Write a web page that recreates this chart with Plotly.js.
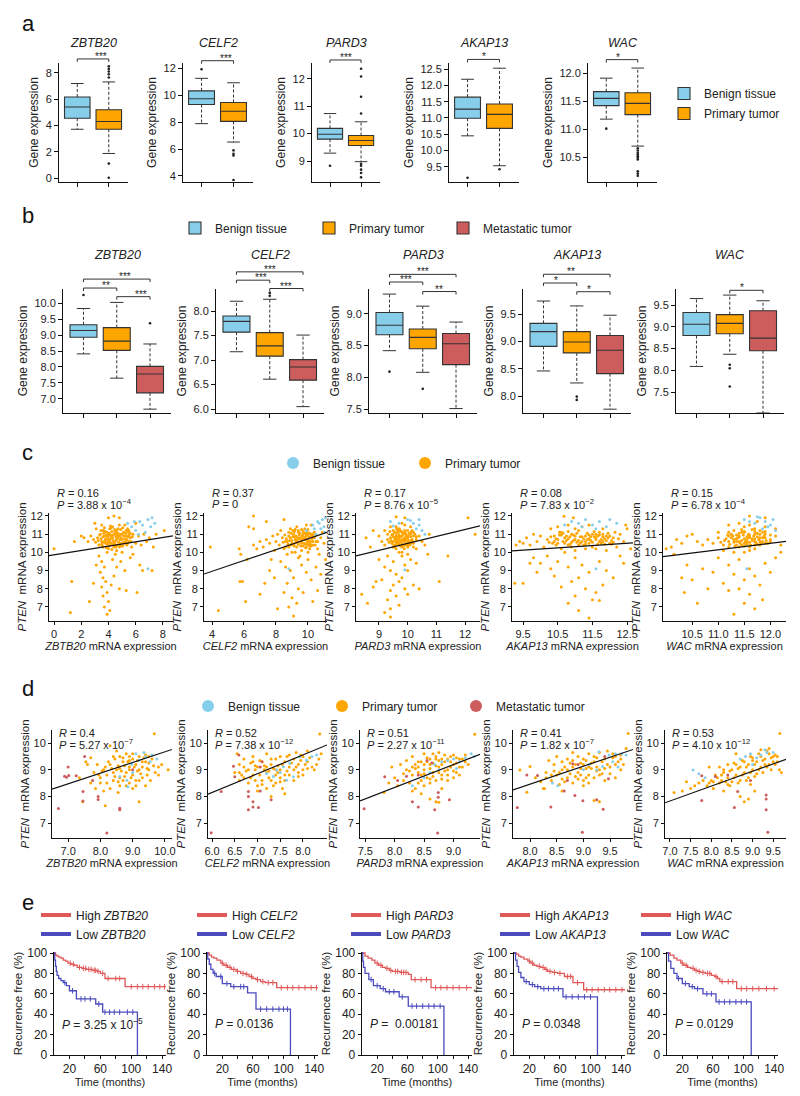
<!DOCTYPE html>
<html>
<head>
<meta charset="utf-8">
<script src="https://cdn.plot.ly/plotly-3.0.1.min.js"></script>
<style>html,body{margin:0;padding:0;background:#fff;}#chart{width:800px;height:1096px;}</style>
</head>
<body>
<div id="chart"></div>
<script>
// ================= DATA =================
const genes = ['ZBTB20', 'CELF2', 'PARD3', 'AKAP13', 'WAC'];
const groupNames = ['Benign tissue', 'Primary tumor', 'Metastatic tumor'];

// Panel a: box stats [lower whisker, Q1, median, Q3, upper whisker]
const aBenign = [[3.71,4.55,5.40,6.16,7.19],[7.89,9.31,9.74,10.33,11.26],[9.29,9.80,9.98,10.19,10.73],[10.45,10.99,11.27,11.64,12.19],[11.18,11.42,11.55,11.67,11.91]];
const aPrimary = [[1.87,3.71,4.30,5.19,7.31],[6.52,8.06,8.81,9.46,10.93],[8.98,9.57,9.75,9.93,10.43],[9.53,10.68,11.11,11.43,12.53],[10.70,11.26,11.46,11.65,12.09]];
const aBenignOut = [[],[11.93],[8.83],[9.16],[11.01]];
const aPrimaryOut = [[8.5,8.3,8.1,7.9,7.65,1.1,0.02],[5.9,5.65,5.52,3.7],[12.36,12.08,11.34,10.73,8.9,8.83,8.69,8.57,8.41],[9.42],[10.66,10.62,10.58,10.55,10.52,10.49,10.46,10.25,10.21,10.17]];
const aSigLabel = ['***','***','***','*','*'];
const aSigY = [9.06,12.57,12.68,12.80,12.24];

// Panel b: box stats [lower whisker, Q1, median, Q3, upper whisker]
const bBenign = [[8.41,8.93,9.14,9.32,9.83],[7.17,7.57,7.79,7.90,8.20],[8.42,8.67,8.82,9.02,9.31],[8.46,8.91,9.18,9.33,9.74],[8.09,8.80,9.06,9.33,9.65]];
const bPrimary = [[7.65,8.52,8.81,9.23,10.02],[6.61,7.08,7.29,7.56,8.24],[8.08,8.45,8.63,8.76,9.12],[8.24,8.79,8.99,9.18,9.65],[8.37,8.84,9.08,9.28,9.73]];
const bMeta = [[6.68,7.19,7.78,8.02,8.72],[6.05,6.59,6.86,7.01,7.51],[7.51,8.20,8.53,8.69,8.87],[7.76,8.41,8.84,9.11,9.48],[7.02,8.45,8.74,9.37,9.60]];
const bBenignOut = [[10.25],[],[8.09],[],[]];
const bPrimaryOut = [[],[8.37,8.31],[7.82],[7.99,7.93],[8.13,8.05,7.63]];
const bMetaOut = [[9.37],[],[],[],[]];
// significance brackets: [group i, group j, height (data units), label]
const bSig = [
  [[1,3,10.75,'***'],[1,2,10.47,'**'],[2,3,10.20,'***']],
  [[1,3,8.80,'***'],[1,2,8.63,'***'],[2,3,8.46,'***']],
  [[1,3,9.62,'***'],[1,2,9.50,'***'],[2,3,9.35,'**']],
  [[1,3,10.23,'**'],[1,2,10.07,'*'],[2,3,9.91,'*']],
  [[2,3,9.84,'*']]
];

// Panel c: [gene expression, PTEN expression]
const c1Primary = [[3.2,10.8],[3.4,11.0],[3.5,10.6],[3.6,11.2],[3.7,10.9],[3.8,10.5],[3.9,11.1],[4.0,10.7],[4.1,11.3],[4.2,10.9],[4.3,10.4],[4.4,11.0],[4.5,10.6],[4.6,11.2],[4.7,10.8],[4.8,10.3],[4.9,11.0],[5.0,10.7],[5.1,11.1],[5.2,10.5],[5.3,10.9],[5.4,11.3],[5.5,10.6],[5.6,10.8],[5.8,11.0],[6.0,10.5],[3.3,10.4],[3.6,10.3],[4.0,10.2],[4.3,11.4],[4.6,10.1],[4.9,10.5],[5.2,11.5],[5.7,10.3],[3.9,10.0],[4.4,10.3],[4.8,11.5],[3.1,11.3],[2.9,10.7],[2.7,10.9],[6.2,10.9],[6.4,10.4],[6.6,11.0],[2.5,10.6],[2.2,10.8],[6.8,10.6],[3.5,11.5],[4.1,10.5],[5.0,10.0],[5.5,11.2],
[3.45,10.75],[3.75,10.65],[3.95,10.85],[4.15,10.75],[4.35,10.65],[4.55,10.85],[4.75,10.55],[4.95,10.8],[5.15,10.9],[5.35,10.7],[3.65,11.05],[3.85,10.95],[4.05,11.05],[4.25,11.15],[4.45,10.45],[4.65,10.4],[4.85,10.7],[5.05,10.35],[5.25,11.05],[5.45,10.85],[3.55,10.35],[4.15,11.45],[4.6,11.0],[5.6,11.05],[3.05,10.55],[4.25,10.15],[5.35,10.4],[4.9,11.25],[3.85,10.25],[4.45,11.25],
[3.35,10.95],[3.5,10.45],[3.6,10.85],[3.7,11.35],[3.8,10.75],[3.9,10.45],[4.0,10.95],[4.1,10.6],[4.2,11.35],[4.3,10.8],[4.4,10.55],[4.5,11.1],[4.6,10.7],[4.7,11.05],[4.8,10.9],[4.9,10.35],[5.0,11.0],[5.1,10.55],[5.2,10.75],[5.3,11.2],[5.4,10.5],[5.5,10.95],[3.45,11.2],[3.65,10.55],[3.75,11.15],[3.95,10.6],[4.05,10.35],[4.2,10.5],[4.35,10.95],[4.55,10.3],[4.7,11.3],[4.85,10.45],[5.05,11.35],[5.25,10.6],[5.45,11.1],[5.65,10.6],[5.75,10.85],[3.25,10.65],[4.65,10.95],[4.15,10.95],
[3.3,9.8],[3.5,9.5],[3.7,9.2],[3.4,8.9],[3.6,8.6],[3.8,8.4],[3.5,8.1],[3.9,7.8],[3.6,7.6],[4.0,7.3],[3.7,7.0],[4.1,6.8],[3.9,6.6],[4.3,9.6],[4.6,9.2],[4.9,9.5],[5.2,9.0],[4.4,8.7],[3.1,9.3],[2.9,8.3],[4.8,8.0],[5.3,7.9],[6.1,7.8],[4.5,9.9],[5.6,9.7],[6.3,9.3],[7.2,9.0],[6.5,9.0],[2.6,7.3],[4.2,8.2],
[0.0,10.2],[1.3,8.4],[1.2,6.7],[1.5,10.6],[2.0,10.9],[7.0,10.8],[7.5,11.0],[8.1,11.2],[7.3,10.3],[6.0,11.6],[4.0,11.9],[4.4,12.0],[4.8,11.9],[3.0,11.6],[5.8,9.9]];
const c1Benign = [[5.4,11.6],[5.7,11.4],[6.0,11.2],[6.3,11.7],[6.5,11.5],[6.7,11.1],[6.9,11.8],[7.1,11.4],[7.2,11.9],[5.9,11.7],[6.2,11.0],[6.9,9.1],[7.4,11.6]];

const c2Primary = [[8.6,10.6],[8.8,10.9],[9.0,10.5],[9.1,11.0],[9.2,10.7],[9.3,10.3],[9.4,11.1],[9.5,10.8],[9.6,10.5],[9.7,11.0],[9.8,10.7],[9.9,10.3],[10.0,11.0],[10.1,10.6],[10.2,10.9],[10.3,10.4],[8.4,10.8],[8.2,10.4],[8.0,10.6],[7.8,10.9],[7.6,10.5],[7.4,10.7],[8.9,11.3],[9.3,11.4],[9.6,10.1],[10.0,10.0],[10.4,11.1],[10.5,10.6],[10.6,10.2],[10.8,10.8],[8.5,10.2],[8.7,9.9],[9.0,10.0],[7.2,10.3],[7.0,10.6],[6.8,10.2],[9.8,11.3],[10.2,11.5],[8.3,11.2],[9.5,9.8],[10.7,9.9],[11.0,10.5],[7.9,10.1],[9.2,10.0],[10.1,10.2],[9.9,11.5],[8.1,11.0],[6.6,10.4],[10.9,11.1],[8.8,10.3],
[8.65,10.75],[8.85,10.65],[9.05,10.85],[9.25,10.55],[9.45,10.95],[9.65,10.75],[9.85,10.85],[10.05,10.65],[10.25,10.75],[9.15,10.35],[9.35,10.6],[9.55,10.35],[9.75,10.5],[9.95,10.55],[10.15,10.45],[8.95,11.05],[9.4,11.2],[9.7,11.15],[10.0,11.25],[10.3,11.0],[8.75,10.45],[9.2,10.85],[9.6,10.65],[9.9,10.95],[10.4,10.8],
[8.45,10.55],[8.55,10.95],[8.7,10.6],[8.8,11.1],[8.9,10.8],[9.0,10.65],[9.1,10.45],[9.15,11.15],[9.25,10.9],[9.3,10.65],[9.4,10.45],[9.45,10.75],[9.5,11.05],[9.55,10.6],[9.65,10.9],[9.7,10.35],[9.75,10.8],[9.8,11.05],[9.85,10.45],[9.9,10.7],[9.95,11.1],[10.0,10.45],[10.05,10.85],[10.1,11.05],[10.15,10.6],[10.2,10.35],[10.25,11.0],[10.3,10.6],[10.35,10.85],[10.45,10.4],[8.6,10.3],[8.95,10.4],[9.2,11.25],[9.35,10.8],[9.6,11.25],[9.85,10.25],[10.1,10.35],[10.5,10.95],[10.6,10.6],[9.05,11.2],
[8.3,9.5],[8.6,9.2],[8.9,9.0],[9.1,8.6],[8.7,8.3],[9.4,8.0],[8.5,7.8],[9.0,7.5],[9.3,7.2],[8.8,7.0],[9.6,9.3],[9.9,8.9],[10.2,8.5],[10.0,9.6],[10.5,9.2],[10.8,8.8],[9.7,7.8],[10.3,7.3],[7.9,8.6],[7.6,9.0],[7.3,8.3],[7.0,7.7],[8.1,6.9],[9.1,6.5],[10.6,7.9],[7.7,9.6],[9.4,9.7],
[3.9,10.3],[5.7,10.2],[5.8,9.9],[6.3,11.4],[6.6,11.3],[6.6,12.0],[5.75,8.4],[5.9,8.4],[4.4,6.8],[6.1,7.3],[7.4,11.7],[8.5,11.8],[11.1,9.6],[6.2,9.6]];
const c2Benign = [[10.3,11.5],[10.6,11.7],[10.8,11.3],[10.9,11.8],[11.0,11.4],[10.5,11.0],[11.1,11.9],[10.7,11.6],[9.9,11.2],[8.8,9.1],[10.4,11.3],[11.05,11.1]];

const c3Primary = [[9.5,10.6],[9.6,10.9],[9.7,10.4],[9.8,11.1],[9.9,10.7],[10.0,10.3],[10.1,11.0],[9.6,10.2],[9.7,11.3],[9.8,10.5],[9.9,11.2],[10.0,10.8],[10.1,10.5],[10.2,11.1],[9.4,10.8],[9.3,11.0],[9.5,11.2],[9.6,11.4],[10.3,10.7],[10.4,10.9],[9.2,10.4],[9.3,10.7],[9.8,10.0],[10.0,9.9],[9.7,10.0],[10.2,10.3],[9.5,10.3],[9.4,11.4],[9.9,11.5],[10.1,11.4],[9.0,10.9],[9.1,10.6],[9.8,11.6],[10.5,10.6],[9.7,10.7],[9.9,10.4],[10.0,11.2],[9.6,10.6],[10.3,10.2],[9.2,11.2],
[9.55,10.75],[9.65,10.55],[9.75,10.85],[9.85,10.65],[9.95,10.95],[10.05,10.55],[9.6,11.05],[9.7,10.7],[9.8,10.9],[9.9,10.6],[10.0,10.75],[10.1,10.85],[9.45,10.5],[9.55,11.1],[9.65,11.2],[9.75,10.35],[9.85,11.0],[9.95,10.45],[10.15,10.7],[9.5,10.85],[9.8,10.3],[10.2,10.9],[9.7,10.95],[9.9,10.8],[9.6,10.45],
[9.42,10.65],[9.48,11.0],[9.52,10.4],[9.58,10.8],[9.62,11.3],[9.68,10.5],[9.72,10.85],[9.78,11.15],[9.82,10.45],[9.88,10.75],[9.92,11.05],[9.98,10.5],[10.02,10.9],[10.08,10.4],[10.12,11.1],[10.18,10.6],[9.45,10.95],[9.55,10.3],[9.62,10.7],[9.68,11.1],[9.75,10.6],[9.8,10.7],[9.85,10.35],[9.9,11.1],[9.95,10.7],[10.0,10.4],[10.05,11.05],[10.1,10.65],[10.2,10.5],[10.25,11.0],[9.35,10.55],[9.38,11.15],[9.58,10.6],[9.72,11.25],[9.88,10.2],[10.02,10.6],[10.15,11.2],[9.65,10.85],[9.95,10.85],[10.3,10.85],
[9.3,9.8],[9.5,9.5],[9.2,9.2],[9.4,9.0],[9.6,8.8],[9.9,9.3],[10.1,9.6],[9.8,8.6],[9.7,8.4],[9.5,8.2],[9.9,8.0],[10.2,8.2],[9.4,7.9],[9.6,7.6],[9.3,7.4],[9.7,7.1],[9.4,6.9],[9.2,6.7],[9.4,6.45],[10.0,9.0],[10.3,9.4],[9.1,8.5],[8.9,8.4],[8.8,8.1],[10.0,7.7],[10.4,8.0],[9.8,9.8],[9.0,9.6],
[8.55,10.8],[8.8,11.2],[8.7,10.3],[8.4,7.7],[8.6,7.2],[10.75,11.0],[11.4,9.8],[11.1,8.4],[12.1,11.9],[12.35,11.0],[9.9,11.9],[9.6,11.95],[10.6,10.4],[10.7,9.9]];
const c3Benign = [[9.4,11.7],[9.7,11.6],[10.0,11.8],[10.2,11.6],[10.3,11.3],[10.1,11.75],[10.4,11.5],[9.5,11.45],[10.5,11.2],[10.6,11.0],[9.9,9.05],[10.4,11.8]];

const c4Primary = [[10.2,10.7],[10.4,10.9],[10.5,10.5],[10.6,11.1],[10.7,10.8],[10.8,10.4],[10.9,11.0],[11.0,10.7],[11.1,11.2],[11.2,10.6],[11.3,10.9],[11.4,10.5],[11.5,11.0],[11.6,10.7],[11.7,11.1],[11.8,10.6],[11.9,10.9],[12.0,10.5],[10.0,10.9],[9.9,10.6],[9.8,11.0],[9.7,10.4],[10.3,11.3],[10.6,10.2],[10.9,10.3],[11.2,11.4],[11.5,10.3],[11.8,11.3],[12.1,10.8],[12.2,10.3],[10.1,10.3],[10.5,11.4],[11.0,10.1],[11.3,10.2],[11.6,10.2],[12.3,11.0],[12.4,10.6],[9.6,10.8],[9.5,10.5],[10.8,11.5],[11.4,11.5],[9.4,10.6],[12.5,11.3],[10.7,10.0],[11.9,10.1],
[10.45,10.75],[10.65,10.6],[10.85,10.85],[11.05,10.55],[11.25,10.75],[11.45,10.65],[11.65,10.9],[11.85,10.75],[10.55,10.95],[10.75,10.65],[10.95,10.95],[11.15,10.85],[11.35,11.05],[11.55,10.85],[11.75,10.5],[11.95,11.05],[10.35,10.5],[11.1,10.4],[11.4,10.75],[11.7,10.95],[12.05,10.65],[10.8,11.15],[11.3,10.45],[11.8,11.0],[12.15,11.1],
[10.3,10.85],[10.4,10.6],[10.5,10.7],[10.6,10.95],[10.7,10.5],[10.8,10.75],[10.9,10.55],[11.0,10.9],[11.1,10.65],[11.2,10.85],[11.3,10.6],[11.4,10.95],[11.5,10.55],[11.6,10.8],[11.7,10.6],[11.8,10.85],[11.9,10.65],[12.0,10.9],[10.45,10.4],[10.65,11.05],[10.85,10.45],[11.05,11.05],[11.25,10.4],[11.45,10.85],[11.65,10.45],[11.85,10.45],[12.05,10.45],[10.55,11.1],[10.75,10.9],[10.95,10.65],[11.15,10.5],[11.35,10.7],[11.55,11.15],[11.75,10.7],[11.95,10.8],[12.1,10.55],[10.25,10.55],[11.0,11.3],[11.6,11.0],[12.25,10.75],
[10.2,9.8],[10.5,9.5],[10.8,9.2],[11.0,9.7],[11.2,9.3],[11.4,8.9],[11.1,8.6],[10.9,8.4],[11.3,8.0],[11.6,7.8],[10.6,8.1],[10.4,8.7],[11.7,9.5],[11.9,9.0],[12.1,8.6],[12.3,9.8],[10.0,9.4],[9.9,8.9],[11.5,7.4],[11.1,6.8],[11.4,6.4],[10.8,7.2],[11.0,7.6],[11.8,8.2],[12.4,9.4],[9.8,9.7],[10.3,9.1],
[9.26,8.3],[9.5,8.3],[9.3,10.4],[10.68,11.98],[10.95,11.9],[12.46,11.5],[11.7,7.35],[12.6,10.2],[9.7,9.4]];
const c4Benign = [[10.9,11.7],[11.1,11.6],[11.3,11.8],[11.5,11.5],[11.7,11.7],[11.9,11.4],[12.0,11.8],[11.6,11.3],[11.2,11.4],[10.7,11.5],[11.6,9.1],[12.2,11.6]];

const c5Primary = [[11.3,10.7],[11.4,10.9],[11.5,10.5],[11.5,11.1],[11.6,10.8],[11.6,10.3],[11.7,11.0],[11.7,10.6],[11.8,10.8],[11.8,11.2],[11.4,10.3],[11.3,11.2],[11.2,10.6],[11.2,10.9],[11.1,10.4],[11.0,10.8],[11.9,10.5],[11.9,11.0],[12.0,10.7],[11.5,11.4],[11.6,11.5],[11.7,10.2],[11.4,10.6],[11.6,10.1],[11.3,10.0],[11.8,10.4],[12.1,10.9],[11.0,11.1],[10.9,10.5],[10.8,10.7],[11.2,11.5],[11.9,11.4],[11.5,10.0],[10.7,10.4],[12.1,11.3],[11.1,10.1],[11.4,11.6],[11.75,11.7],[10.6,10.6],[12.2,10.4],
[11.35,10.75],[11.45,10.65],[11.55,10.85],[11.65,10.65],[11.75,10.85],[11.85,10.6],[11.3,10.55],[11.4,11.05],[11.5,10.75],[11.6,10.95],[11.7,10.75],[11.8,11.0],[11.25,10.8],[11.55,10.45],[11.65,11.25],[11.45,11.25],[11.75,10.45],[11.9,10.8],[11.35,10.4],[11.5,11.15],[11.6,10.55],[11.85,11.1],[11.2,10.3],[11.7,11.3],[12.0,10.95],
[11.12,10.65],[11.18,10.95],[11.22,10.45],[11.28,10.9],[11.32,10.35],[11.38,10.8],[11.42,10.5],[11.48,10.95],[11.52,10.6],[11.58,11.0],[11.62,10.4],[11.68,10.9],[11.72,10.55],[11.78,10.7],[11.82,10.5],[11.88,10.9],[11.92,10.65],[11.15,10.75],[11.25,11.0],[11.35,10.6],[11.45,10.4],[11.55,10.7],[11.65,10.75],[11.75,11.05],[11.85,10.8],[11.95,10.5],[11.3,10.7],[11.4,10.85],[11.5,10.35],[11.6,10.85],[11.7,10.4],[11.8,10.6],[11.9,11.15],[11.2,11.1],[11.45,11.1],[11.7,11.15],[11.55,10.55],[11.05,10.55],[12.0,10.6],[11.35,10.95],
[11.0,9.7],[11.2,9.3],[11.4,9.6],[11.6,9.1],[11.3,8.8],[11.5,8.5],[11.7,8.7],[11.1,8.3],[11.4,8.0],[11.6,7.7],[11.8,8.2],[11.9,9.4],[12.0,8.9],[11.2,7.9],[11.5,7.2],[11.7,6.9],[11.3,6.6],[10.9,8.9],[10.8,8.0],[10.7,9.1],[10.5,8.5],[10.3,8.6],[10.6,7.2],[12.1,9.7],[11.85,7.4],[10.4,9.3],
[10.0,10.2],[10.1,10.3],[10.2,10.7],[10.3,10.5],[10.4,10.9],[10.15,9.9],[10.5,11.0],[10.35,7.8],[11.6,12.0],[11.9,11.9],[12.2,10.0]];
const c5Benign = [[11.7,11.6],[11.8,11.9],[11.9,11.7],[12.0,11.5],[11.85,11.3],[11.75,11.95],[12.05,11.8],[11.6,11.7],[11.5,11.8],[11.55,9.1],[12.1,11.2],[11.95,11.4]];

const cPrimary = [c1Primary, c2Primary, c3Primary, c4Primary, c5Primary];
const cBenign = [c1Benign, c2Benign, c3Benign, c4Benign, c5Benign];
const cR = ['0.16','0.37','0.17','0.08','0.15'];
const cP = ['3.88 x 10<sup>−4</sup>','0','8.76 x 10<sup>−5</sup>','7.83 x 10<sup>−2</sup>','6.78 x 10<sup>−4</sup>'];
// fitted line end points [x0, y0, x1, y1]
const cFit = [[-0.37,9.82,8.74,10.90],[3.5,8.81,11.19,11.10],[8.2,9.80,12.52,11.45],[9.18,10.08,12.67,10.52],[9.94,9.77,12.3,10.60]];

// Panel d
const d1Primary = [[8.3,9.2],[8.5,9.0],[8.6,8.7],[8.7,9.3],[8.8,8.9],[8.9,9.1],[9.0,8.8],[9.1,9.2],[9.2,9.0],[9.3,8.7],[9.4,9.3],[8.4,8.6],[8.2,8.8],[8.0,8.5],[8.1,9.0],[7.9,9.2],[8.6,9.5],[8.9,9.5],[9.2,9.5],[9.5,9.0],[9.6,9.4],[9.7,8.9],[9.8,9.1],[8.3,8.3],[8.6,8.4],[8.9,8.5],[9.1,8.6],[7.8,8.9],[7.7,8.5],[7.6,9.2],[8.5,9.7],[8.8,9.6],[9.0,9.4],[9.3,9.1],[8.4,8.9],[8.7,8.6],[8.2,8.5],[8.0,8.7],[9.55,8.6],[9.9,9.2],[8.9,9.0],[9.15,8.95],[8.75,9.15],[7.85,8.3],[8.1,8.2],[9.4,8.4],[9.0,8.3],[8.45,9.4],[10.1,9.0],[7.7,9.45],[7.55,9.3],[9.67,10.35],[7.45,7.8],[8.15,7.65],[9.2,7.8],[8.3,9.9],[9.4,9.55],[9.5,9.5],[7.35,8.7],[8.55,8.15],
[8.35,9.05],[8.45,8.75],[8.55,9.15],[8.65,8.95],[8.75,8.75],[8.85,9.3],[8.95,8.7],[9.05,9.1],[9.15,9.35],[9.25,8.85],[9.35,9.45],[9.45,8.8],[8.25,9.3],[8.4,9.5],[8.55,8.55],[8.7,9.45],[8.8,8.4],[9.0,9.6],[9.1,8.4],[9.3,9.3],[9.5,9.25],[9.65,9.15],[9.8,8.8],[8.15,9.1],[8.05,8.95],[7.95,8.8],[8.6,9.05],[9.2,8.6],[8.9,9.35],[9.45,9.05]];
const d1Benign = [[8.97,9.21],[9.2,9.36],[9.4,9.49],[9.54,9.3],[8.82,8.61],[8.85,8.36],[9.1,9.6],[9.35,9.65],[9.75,9.4],[9.0,8.9],[9.6,9.55],[8.6,8.75]];
const d1Meta = [[6.7,7.55],[6.89,8.76],[6.95,8.72],[7.02,8.78],[7.0,9.1],[7.25,8.77],[7.51,9.5],[7.46,8.18],[7.46,7.83],[7.93,8.0],[7.93,7.88],[8.6,7.56],[8.6,7.5],[8.2,6.63],[7.76,8.6],[9.0,9.0]];

const d2Primary = [[6.5,8.9],[6.6,9.2],[6.7,8.7],[6.8,9.0],[6.9,8.8],[7.0,9.1],[7.1,8.6],[7.2,8.9],[7.3,9.2],[7.4,8.8],[7.5,9.0],[7.6,9.3],[7.7,9.1],[7.8,9.4],[7.9,9.2],[8.0,9.5],[8.1,9.3],[8.2,9.1],[6.8,8.5],[7.0,8.4],[7.2,8.3],[7.4,8.5],[7.1,9.3],[7.3,8.6],[7.5,8.7],[7.6,8.6],[7.7,8.8],[7.8,9.0],[7.9,8.9],[8.0,9.0],[6.6,8.6],[6.7,9.4],[6.9,9.5],[7.2,9.6],[7.4,9.4],[7.0,8.2],[7.25,8.95],[7.45,9.15],[7.65,9.5],[8.3,9.2],[8.37,10.34],[8.4,9.6],[6.95,9.15],[7.15,9.0],[7.35,8.4],[7.55,8.3],[6.55,9.6],[8.1,9.7],[7.85,9.65],[7.05,9.35],[6.85,9.25],[7.95,9.55],[8.25,9.0],[7.5,9.5],[7.3,8.0],[6.65,8.8],[7.6,8.1],[8.35,9.4],
[6.75,8.95],[6.85,8.7],[6.95,9.0],[7.05,8.8],[7.15,9.15],[7.25,8.7],[7.35,9.05],[7.45,8.9],[7.55,9.2],[7.65,8.95],[7.75,9.25],[7.85,9.1],[7.95,9.35],[8.05,9.2],[8.15,9.45],[6.7,9.1],[6.9,9.3],[7.1,8.45],[7.3,9.4],[7.5,8.55],[7.7,9.55],[7.9,8.75],[8.1,9.05],[6.6,8.9],[7.2,9.1],[7.4,9.0],[7.6,8.8],[7.8,8.6],[8.0,8.8],[6.95,8.6]];
const d2Benign = [[7.2,8.86],[7.42,8.99],[7.57,9.11],[7.71,9.24],[7.93,9.49],[8.08,9.36],[7.79,8.74],[7.64,8.61],[8.2,9.5],[7.35,8.75],[8.3,9.55],[7.5,8.9]];
const d2Meta = [[5.98,6.64],[6.2,8.18],[6.5,8.74],[6.59,9.55],[6.47,9.13],[6.8,8.18],[6.8,8.0],[6.8,7.5],[6.9,7.8],[6.9,7.6],[7.02,7.58],[7.06,8.2],[7.3,7.87],[7.06,9.1],[7.1,9.3]];

const d3Primary = [[8.2,9.0],[8.3,8.8],[8.35,9.2],[8.4,8.9],[8.45,9.3],[8.5,9.0],[8.55,8.7],[8.6,9.2],[8.65,8.9],[8.7,9.4],[8.75,9.1],[8.8,8.8],[8.85,9.3],[8.9,9.0],[8.95,9.5],[9.0,9.2],[9.05,8.9],[9.1,9.4],[8.15,8.6],[8.25,8.5],[8.1,9.2],[8.3,9.5],[8.5,9.6],[8.6,8.5],[8.7,8.6],[8.4,8.5],[8.55,9.45],[8.65,9.6],[8.75,9.65],[8.8,9.4],[9.15,9.1],[9.2,9.55],[8.0,8.7],[7.95,9.1],[8.05,8.4],[8.35,8.3],[8.45,8.1],[8.6,7.9],[8.8,8.3],[8.9,8.6],[9.0,8.7],[8.2,9.35],[8.4,9.1],[8.5,8.4],[8.95,9.3],[9.25,9.2],[7.82,8.15],[8.7,7.8],[8.75,7.78],[9.36,10.33],[8.65,9.25],[8.85,9.55],[8.3,8.2],[9.05,9.45],[8.5,8.85],[7.9,8.5],
[8.25,8.95],[8.35,9.05],[8.45,8.8],[8.5,9.2],[8.6,9.05],[8.65,8.75],[8.7,9.15],[8.75,8.9],[8.8,9.2],[8.85,8.95],[8.9,9.4],[8.95,9.1],[9.0,8.95],[9.05,9.25],[9.1,9.1],[9.15,9.4],[9.2,9.3],[8.4,9.3],[8.55,9.3],[8.6,8.65],[8.7,9.5],[8.8,8.65],[9.0,9.55],[8.3,9.1],[8.15,8.85],[8.45,8.6],[8.9,8.8],[9.1,8.8],[8.6,9.4],[8.75,9.35]];
const d3Benign = [[8.68,9.2],[8.8,9.3],[8.9,9.35],[9.0,9.4],[9.1,9.3],[9.2,9.45],[9.3,9.6],[8.6,8.9],[8.75,9.0],[9.05,9.05],[8.5,8.7],[9.35,9.5],[8.3,8.4]];
const d3Meta = [[7.48,7.54],[7.83,8.74],[8.05,8.6],[8.2,8.76],[8.3,7.8],[8.4,7.6],[8.68,7.5],[8.74,8.15],[8.74,7.97],[8.73,6.63],[8.93,7.87],[8.63,9.25],[8.4,8.8],[8.55,9.35]];

const d4Primary = [[8.5,8.8],[8.6,9.0],[8.7,8.7],[8.8,9.1],[8.9,8.9],[9.0,9.2],[9.1,8.8],[9.2,9.3],[9.3,9.0],[9.4,9.4],[9.5,9.1],[9.6,9.5],[8.4,8.6],[8.3,8.9],[8.6,9.3],[8.7,9.4],[8.8,8.5],[8.9,9.5],[9.0,8.6],[9.1,9.6],[9.2,8.7],[9.3,9.65],[9.45,9.7],[9.55,9.6],[9.7,9.4],[9.75,9.2],[8.45,9.2],[8.55,8.45],[8.65,8.55],[8.75,9.25],[8.85,8.75],[8.95,9.05],[9.05,9.35],[9.15,9.05],[9.25,8.95],[9.35,8.85],[8.2,8.55],[8.25,8.3],[8.35,9.35],[8.5,9.5],[9.6,8.7],[9.8,9.8],[9.84,10.36],[7.81,8.99],[8.0,9.12],[7.94,8.16],[8.27,8.3],[9.0,8.4],[9.3,7.8],[9.2,7.85],[9.4,8.6],[9.7,9.0],[8.8,9.65],[9.1,8.5],[8.1,8.7],[8.6,8.2],
[8.55,8.9],[8.65,9.1],[8.75,8.85],[8.85,9.2],[8.95,8.8],[9.05,9.05],[9.15,9.25],[9.25,9.1],[9.35,9.3],[9.45,9.2],[9.55,9.45],[9.65,9.3],[8.45,8.95],[8.6,8.65],[8.7,9.0],[8.8,9.35],[8.9,8.65],[9.0,9.4],[9.1,9.1],[9.2,9.5],[9.3,8.8],[9.4,9.05],[9.5,8.85],[9.6,9.2],[9.7,9.55],[8.4,8.8],[8.3,8.7],[8.95,9.25],[9.25,9.45],[9.05,8.7]];
const d4Benign = [[9.29,9.67],[9.48,9.55],[9.6,9.6],[9.72,9.6],[9.36,9.12],[9.25,8.99],[9.11,9.2],[8.52,8.4],[8.42,8.5],[9.55,9.3],[9.65,9.1],[9.0,9.0],[9.8,9.55]];
const d4Meta = [[7.76,7.58],[7.94,8.8],[8.14,8.78],[8.39,7.6],[8.64,8.2],[8.84,8.03],[8.99,7.84],[8.98,6.66],[9.25,7.87],[9.37,7.52],[9.47,8.66],[8.9,9.2],[8.8,9.22],[9.4,9.5],[8.7,8.6]];

const d5Primary = [[8.0,8.6],[8.1,8.8],[8.2,8.5],[8.3,8.9],[8.4,8.7],[8.5,9.0],[8.6,8.8],[8.7,9.1],[8.8,8.9],[8.9,9.2],[9.0,9.0],[9.1,9.3],[9.2,9.1],[9.3,9.4],[9.4,9.2],[9.5,9.5],[9.6,9.3],[7.9,8.4],[7.8,8.6],[7.7,8.5],[8.05,8.3],[8.25,8.6],[8.45,8.4],[8.55,9.25],[8.65,8.5],[8.75,9.35],[8.85,8.6],[8.95,9.5],[9.05,8.75],[9.15,9.6],[9.25,8.9],[9.35,9.7],[9.45,9.0],[9.55,9.55],[9.65,9.0],[9.2,9.75],[9.4,9.8],[8.6,9.6],[8.4,9.2],[8.2,9.1],[7.6,8.4],[7.5,8.3],[7.3,8.2],[7.1,8.15],[9.66,10.36],[8.8,7.8],[8.9,7.9],[9.05,8.2],[8.7,8.0],[9.7,8.9],[8.3,8.2],[8.5,8.55],[9.0,9.45],[8.95,8.45],[7.95,9.1],[7.4,8.55],
[8.15,8.7],[8.25,8.8],[8.35,8.55],[8.45,8.95],[8.55,8.7],[8.65,9.05],[8.75,8.8],[8.85,9.1],[8.95,8.9],[9.05,9.2],[9.15,9.0],[9.25,9.35],[9.35,9.1],[9.45,9.45],[9.55,9.2],[8.6,9.2],[8.7,8.6],[8.8,9.3],[8.9,8.7],[9.0,9.35],[9.1,8.85],[9.2,9.5],[9.3,9.2],[9.4,9.6],[9.5,9.3],[9.6,9.5],[8.4,8.45],[8.3,9.0],[8.05,8.55],[7.95,8.5]];
const d5Benign = [[7.56,8.99],[7.7,8.85],[7.85,8.7],[8.83,9.5],[8.95,9.6],[9.3,9.75],[9.35,9.65],[9.1,9.45],[9.2,9.55],[9.5,9.65],[8.7,9.4],[9.0,9.2]];
const d5Meta = [[6.8,7.58],[7.77,8.77],[7.77,7.85],[8.4,8.8],[8.64,8.18],[9.33,8.05],[9.33,7.9],[9.33,7.5],[9.37,6.66],[8.56,7.58],[8.1,8.75],[8.95,8.6]];

const dPrimary = [d1Primary, d2Primary, d3Primary, d4Primary, d5Primary];
const dBenign = [d1Benign, d2Benign, d3Benign, d4Benign, d5Benign];
const dMeta = [d1Meta, d2Meta, d3Meta, d4Meta, d5Meta];
const dR = ['0.4','0.52','0.51','0.41','0.53'];
const dP = ['5.27 x 10<sup>−7</sup>','7.38 x 10<sup>−12</sup>','2.27 x 10<sup>−11</sup>','1.82 x 10<sup>−7</sup>','4.10 x 10<sup>−12</sup>'];
const dFit = [[6.5,8.27,10.22,9.76],[5.91,8.08,8.53,9.93],[7.41,7.83,9.45,9.58],[7.68,8.24,9.93,9.76],[6.88,7.76,9.81,9.39]];

// Panel e: Kaplan-Meier steps (months, % recurrence free)
const kmHighT = [[0,2,4,6,9,12,15,18,22,26,30,36,42,50,56,60,66,92,145],[0,3,6,9,13,18,22,27,32,38,44,50,55,60,64,70,76,91,145],[0,4,8,13,17,22,27,31,36,40,50,61,65,91,145],[0,3,6,9,13,18,22,26,30,35,40,44,50,57,66,77,91,145],[0,4,9,13,18,22,27,31,36,40,44,50,58,62,66,69,91,145]];
const kmHighS = [[100,98,97,96,95,93,92,90,89,88,86,85,84,83,82,80,75,67,67],[100,98,96,95,93,90,88,86,84,82,80,79,77,75,74,72,71,66,66],[100,97,95,93,90,88,86,85,83,82,81,79,74,66,66],[100,99,97,96,94,92,90,88,87,86,84,82,81,80,77,71,64,64],[100,98,95,93,90,88,86,85,83,82,81,80,78,77,75,72,65,65]];
const kmLowT = [[0,1,2,3,4,6,9,12,16,20,29,54,63,108],[0,1,3,5,8,12,20,31,53,64,109],[0,1,2,4,9,15,24,31,49,61,108],[0,2,4,6,9,13,20,27,35,64,109],[0,2,5,9,13,20,29,36,47,64,110]];
const kmLowS = [[100,93,87,82,78,75,73,71,68,63,55,50,42,0],[100,94,89,84,80,77,70,67,61,45,0],[100,92,86,80,74,68,65,62,57,48,0],[100,93,87,81,76,72,69,67,65,57,0],[100,92,85,80,75,70,67,65,60,52,0]];
const kmHighCens = [[21,25,33,38,41,45,48,52,54,57,63,70,80,85,100,108,115,122,130,137,143],[20,25,30,35,40,47,52,58,66,73,80,86,97,105,112,120,128,136,143],[20,25,33,38,44,47,52,55,58,70,78,85,97,104,112,120,128,138],[20,24,33,38,42,47,53,60,70,74,83,95,102,110,118,125,133,141],[20,25,34,38,42,47,53,56,64,72,80,86,97,104,112,120,130,140]];
const kmLowCens = [[14,24,35,40,47,58,66,72,78,85,95,102],[10,18,26,35,44,48,70,78,86,94,100,105],[12,20,28,36,42,53,66,72,80,88,95,103],[16,24,31,39,45,52,58,68,76,84,92,100],[15,24,33,40,52,58,68,75,82,90,97,104]];
const kmP = ['3.25 x 10<sup>−5</sup>','0.0136',' 0.00181','0.0348','0.0129'];

// ================= STYLE / LAYOUT =================
const FONT = '"Liberation Sans", Arial, Helvetica, sans-serif';
const W = 800, H = 1096;
const COL = {benign:'#87CEEB', primary:'#FFA500', meta:'#CD5C5C', high:'#E05858', low:'#4B4BBE', ink:'#222'};
const groupCol = [COL.benign, COL.primary, COL.meta];

// pixel boxes of each plotting area
const PX = {
  a: {y:[63,182], x:[[59,128],[183,253],[312,380],[449,519],[588,657]]},
  b: {y:[289,413], x:[[63,171],[216,324],[369,477],[523,631],[676,784]]},
  c: {y:[513,621], x:[[49,173],[204,327],[356,480],[512,633],[663,786]]},
  d: {y:[730,838], x:[[52,172],[208,327],[360,480],[513,633],[665,786]]},
  e: {y:[952,1055], x:[[54,166],[207,318],[362,472],[514,625],[667,778]]}
};
const aRange = [[-0.3,8.75],[3.55,12.4],[8.24,12.57],[9.03,12.69],[10.06,12.18]];
const aTicks = [[0,2,4,6,8],[4,6,8,10,12],[9,10,11,12],[9.5,10,10.5,11,11.5,12,12.5],[10.5,11,11.5,12]];
const aFmt = ['','','','.1f','.1f'];
const bRange = [[6.56,10.44],[5.92,8.45],[7.44,9.39],[7.69,9.96],[7.02,9.87]];
const bTicks = [[7,7.5,8,8.5,9,9.5,10],[6,6.5,7,7.5,8],[7.5,8,8.5,9],[8,8.5,9,9.5],[7,7.5,8,8.5,9,9.5]];
const cXRange = [[-0.37,8.74],[3.5,11.19],[8.2,12.52],[9.18,12.67],[9.94,12.3]];
const cXTicks = [[0,2,4,6,8],[4,6,8,10],[9,10,11,12],[9.5,10.5,11.5,12.5],[10.5,11,11.5,12]];
const cXFmt = ['','','','.1f','.1f'];
const dXRange = [[6.5,10.22],[5.91,8.53],[7.41,9.45],[7.68,9.93],[6.88,9.81]];
const dXTicks = [[7,8,9,10],[6,6.5,7,7.5,8],[7.5,8,8.5,9],[8,8.5,9,9.5],[7,7.5,8,8.5,9,9.5]];

const layout = {
  width: W, height: H, margin: {l:0, r:0, t:0, b:0, pad:0},
  paper_bgcolor: '#ffffff', plot_bgcolor: 'rgba(0,0,0,0)',
  font: {family: FONT, size: 11, color: COL.ink},
  showlegend: true, annotations: [], shapes: [], boxmode: 'overlay'
};
const data = [];
const sfx = n => (n === 1 ? '' : String(n));
const xid = n => 'x' + sfx(n);
const yid = n => 'y' + sfx(n);
const baseAx = {type:'linear', showline:true, linecolor:'#111', linewidth:1, ticks:'outside', ticklen:4, tickwidth:1,
  tickcolor:'#111', showgrid:false, zeroline:false, fixedrange:true, automargin:false,
  tickfont:{family:FONT, size:11, color:COL.ink}};
function setAxes(n, px, py, xo, yo) {
  layout['xaxis' + sfx(n)] = Object.assign({}, baseAx, {domain:[px[0]/W, px[1]/W], anchor:yid(n)}, xo);
  layout['yaxis' + sfx(n)] = Object.assign({}, baseAx, {domain:[1 - py[1]/H, 1 - py[0]/H], anchor:xid(n)}, yo);
}
function xPaper(n, v) { const a = layout['xaxis' + sfx(n)]; return a.domain[0] + (v - a.range[0]) / (a.range[1] - a.range[0]) * (a.domain[1] - a.domain[0]); }
function yPaper(n, v) { const a = layout['yaxis' + sfx(n)]; return a.domain[0] + (v - a.range[0]) / (a.range[1] - a.range[0]) * (a.domain[1] - a.domain[0]); }
function ann(o) { layout.annotations.push(Object.assign({showarrow:false, font:{family:FONT, size:11, color:COL.ink}}, o)); }

function boxGroup(n, pos, st, outs, gi, legendId, bw) {
  const xa = xid(n), ya = yid(n);
  data.push({type:'scatter', mode:'lines', x:[pos,pos,null,pos,pos], y:[st[3],st[4],null,st[1],st[0]],
    xaxis:xa, yaxis:ya, line:{color:'#333', width:1, dash:'3px,2px'}, showlegend:false, hoverinfo:'skip'});
  data.push({type:'scatter', mode:'lines', x:[pos-0.2,pos+0.2,null,pos-0.2,pos+0.2], y:[st[4],st[4],null,st[0],st[0]],
    xaxis:xa, yaxis:ya, line:{color:'#333', width:1}, showlegend:false, hoverinfo:'skip'});
  const bt = {type:'box', orientation:'v', x:[pos], q1:[st[1]], median:[st[2]], q3:[st[3]], lowerfence:[st[1]], upperfence:[st[3]],
    width:bw, whiskerwidth:0, fillcolor:groupCol[gi], line:{color:'#333', width:1.1}, name:groupNames[gi],
    xaxis:xa, yaxis:ya, boxpoints:false, hoverinfo:'skip', showlegend:false};
  if (legendId) { bt.showlegend = true; bt.legend = legendId; bt.legendgroup = legendId + gi; bt.legendrank = gi + 1; }
  data.push(bt);
  if (outs.length) data.push({type:'scatter', mode:'markers', x:outs.map(() => pos), y:outs, xaxis:xa, yaxis:ya,
    marker:{size:2.6, color:'#222'}, showlegend:false, hoverinfo:'skip'});
}
function bracket(n, i, j, yv, label) {
  const x0 = xPaper(n, i), x1 = xPaper(n, j), y = yPaper(n, yv), t = 3 / H;
  layout.shapes.push({type:'path', xref:'paper', yref:'paper', path:`M${x0},${y - t} L${x0},${y} L${x1},${y} L${x1},${y - t}`,
    line:{color:'#333', width:1}});
  ann({xref:'paper', yref:'paper', x:(x0 + x1) / 2, y:y, yanchor:'bottom', yshift:-5, text:label, font:{family:FONT, size:10, color:COL.ink}});
}
function geneTitle(n, g, pyc) {
  ann({xref:xid(n) + ' domain', yref:'paper', x:0.5, y:1 - pyc / H, xanchor:'center', yanchor:'middle', text:'<i>' + g + '</i>', font:{family:FONT, size:12.5, color:COL.ink}});
}
function scatterPts(n, pts, color, name, rank, legendId) {
  const t = {type:'scatter', mode:'markers', x:pts.map(p => p[0]), y:pts.map(p => p[1]), xaxis:xid(n), yaxis:yid(n),
    marker:{size:3, color:color}, name:name, showlegend:false, hoverinfo:'skip', cliponaxis:true};
  if (legendId) { t.showlegend = true; t.legend = legendId; t.legendrank = rank; }
  data.push(t);
}
function fitLine(n, f) {
  data.push({type:'scatter', mode:'lines', x:[f[0], f[2]], y:[f[1], f[3]], xaxis:xid(n), yaxis:yid(n),
    line:{color:'#111', width:1.2}, showlegend:false, hoverinfo:'skip'});
}
function stepAt(t, s, x) { let v = s[0]; for (let i = 0; i < t.length; i++) { if (t[i] <= x) v = s[i]; } return v; }
const xTitle = txt => ({text:txt, font:{family:FONT, size:11, color:COL.ink}, standoff:0});

// ---------- Panel a ----------
for (let k = 0; k < 5; k++) {
  const n = 1 + k;
  setAxes(n, PX.a.x[k], PX.a.y,
    {range:[0.42, 2.61], tickvals:[1,2], ticktext:['','']},
    {range:aRange[k], tickvals:aTicks[k], tickformat:aFmt[k], title:{text:'Gene expression', font:{family:FONT, size:12, color:COL.ink}, standoff:4}});
  boxGroup(n, 1, aBenign[k], aBenignOut[k], 0, k === 0 ? 'legend' : null, 0.81);
  boxGroup(n, 2, aPrimary[k], aPrimaryOut[k], 1, k === 0 ? 'legend' : null, 0.81);
  bracket(n, 1, 2, aSigY[k], aSigLabel[k]);
  geneTitle(n, genes[k], 43);
}
// ---------- Panel b ----------
for (let k = 0; k < 5; k++) {
  const n = 6 + k;
  setAxes(n, PX.b.x[k], PX.b.y,
    {range:[0.385, 3.63], tickvals:[1,2,3], ticktext:['','','']},
    {range:bRange[k], tickvals:bTicks[k], tickformat:'.1f', title:{text:'Gene expression', font:{family:FONT, size:12, color:COL.ink}, standoff:4}});
  const lg = k === 0 ? 'legend2' : null;
  boxGroup(n, 1, bBenign[k], bBenignOut[k], 0, lg, 0.81);
  boxGroup(n, 2, bPrimary[k], bPrimaryOut[k], 1, lg, 0.81);
  boxGroup(n, 3, bMeta[k], bMetaOut[k], 2, lg, 0.81);
  bSig[k].forEach(s => bracket(n, s[0], s[1], s[2], s[3]));
  geneTitle(n, genes[k], 255);
}
// ---------- Panel c ----------
for (let k = 0; k < 5; k++) {
  const n = 11 + k;
  setAxes(n, PX.c.x[k], PX.c.y,
    {range:cXRange[k], tickvals:cXTicks[k], tickformat:cXFmt[k], ticklen:3, title:xTitle('<i>' + genes[k] + '</i> mRNA expression')},
    {range:[6.23, 12.16], tickvals:[7,8,9,10,11,12], ticklen:3, title:{text:'<i>PTEN</i>  mRNA expression', font:{family:FONT, size:11.5, color:COL.ink}, standoff:1}});
  const lg = k === 0 ? 'legend3' : null;
  scatterPts(n, cPrimary[k], COL.primary, groupNames[1], 2, lg);
  scatterPts(n, cBenign[k], COL.benign, groupNames[0], 1, lg);
  fitLine(n, cFit[k]);
  ann({xref:xid(n) + ' domain', yref:yid(n) + ' domain', x:0, y:1, xanchor:'left', yanchor:'middle', xshift:6, yshift:20, text:'<i>R</i> = ' + cR[k]});
  ann({xref:xid(n) + ' domain', yref:yid(n) + ' domain', x:0, y:1, xanchor:'left', yanchor:'middle', xshift:6, yshift:9, text:'<i>P</i> = ' + cP[k]});
}
// ---------- Panel d ----------
for (let k = 0; k < 5; k++) {
  const n = 16 + k;
  setAxes(n, PX.d.x[k], PX.d.y,
    {range:dXRange[k], tickvals:dXTicks[k], tickformat:'.1f', ticklen:3, title:xTitle('<i>' + genes[k] + '</i> mRNA expression')},
    {range:[6.44, 10.49], tickvals:[7,8,9,10], ticklen:3, title:{text:'<i>PTEN</i>  mRNA expression', font:{family:FONT, size:11.5, color:COL.ink}, standoff:1}});
  const lg = k === 0 ? 'legend4' : null;
  scatterPts(n, dPrimary[k], COL.primary, groupNames[1], 2, lg);
  scatterPts(n, dBenign[k], COL.benign, groupNames[0], 1, lg);
  scatterPts(n, dMeta[k], COL.meta, groupNames[2], 3, lg);
  fitLine(n, dFit[k]);
  ann({xref:xid(n) + ' domain', yref:yid(n) + ' domain', x:0, y:1, xanchor:'left', yanchor:'middle', xshift:5, yshift:-3, text:'<i>R</i> = ' + dR[k]});
  ann({xref:xid(n) + ' domain', yref:yid(n) + ' domain', x:0, y:1, xanchor:'left', yanchor:'middle', xshift:5, yshift:-14, text:'<i>P</i> = ' + dP[k]});
}
// ---------- Panel e ----------
const eTextX = [87, 243, 397, 546, 687];
for (let k = 0; k < 5; k++) {
  const n = 21 + k, xa = xid(n), ya = yid(n);
  setAxes(n, PX.e.x[k], PX.e.y,
    {range:[0, 145], tickvals:[20,40,60,80,100,120,140], ticktext:['20','','60','','100','','140'], ticklen:3,
     tickfont:{family:FONT, size:12, color:COL.ink}, title:xTitle('Time (months)')},
    {range:[0, 101], tickvals:[0,20,40,60,80,100], ticklen:3, linewidth:1.3,
     tickfont:{family:FONT, size:12, color:COL.ink}, title:{text:'Recurrence free (%)', font:{family:FONT, size:11.5, color:COL.ink}, standoff:2}});
  data.push({type:'scatter', mode:'lines', x:kmHighT[k], y:kmHighS[k], xaxis:xa, yaxis:ya, line:{shape:'hv', color:COL.high, width:1.3}, showlegend:false, hoverinfo:'skip'});
  data.push({type:'scatter', mode:'lines', x:kmLowT[k], y:kmLowS[k], xaxis:xa, yaxis:ya, line:{shape:'hv', color:COL.low, width:1.3}, showlegend:false, hoverinfo:'skip'});
  data.push({type:'scatter', mode:'markers', x:kmHighCens[k], y:kmHighCens[k].map(t => stepAt(kmHighT[k], kmHighS[k], t)), xaxis:xa, yaxis:ya,
    marker:{symbol:'line-ns-open', size:4, color:COL.high, line:{color:COL.high, width:1}}, showlegend:false, hoverinfo:'skip'});
  data.push({type:'scatter', mode:'markers', x:kmLowCens[k], y:kmLowCens[k].map(t => stepAt(kmLowT[k], kmLowS[k], t)), xaxis:xa, yaxis:ya,
    marker:{symbol:'line-ns-open', size:4, color:COL.low, line:{color:COL.low, width:1}}, showlegend:false, hoverinfo:'skip'});
  const lg = 'legend' + (5 + k);
  data.push({type:'scatter', mode:'lines', x:[null], y:[null], xaxis:xa, yaxis:ya, name:'High <i>' + genes[k] + '</i>', line:{color:COL.high, width:4}, legend:lg, legendrank:1, hoverinfo:'skip'});
  data.push({type:'scatter', mode:'lines', x:[null], y:[null], xaxis:xa, yaxis:ya, name:'Low <i>' + genes[k] + '</i>', line:{color:COL.low, width:4}, legend:lg, legendrank:2, hoverinfo:'skip'});
  layout[lg] = {x:(eTextX[k] - 51) / W, y:1 - 924.5 / H, xanchor:'left', yanchor:'middle', orientation:'v',
    font:{family:FONT, size:12, color:COL.ink}, bgcolor:'rgba(0,0,0,0)', borderwidth:0, itemwidth:30, itemclick:false, itemdoubleclick:false};
  ann({xref:xa + ' domain', yref:ya, x:0.05, y:30, xanchor:'left', yanchor:'middle', text:'<i>P</i> = ' + kmP[k], font:{family:FONT, size:12, color:COL.ink}});
}

// ---------- legends ----------
const legBase = {bgcolor:'rgba(0,0,0,0)', borderwidth:0, font:{family:FONT, size:12, color:COL.ink}, itemclick:false, itemdoubleclick:false};
layout.legend = Object.assign({}, legBase, {x:664 / W, y:1 - 79 / H, xanchor:'left', yanchor:'top', orientation:'v', tracegroupgap:1});
layout.legend2 = Object.assign({}, legBase, {x:175 / W, y:1 - 228 / H, xanchor:'left', yanchor:'middle', orientation:'h', entrywidth:89});
layout.legend3 = Object.assign({}, legBase, {x:273 / W, y:1 - 463 / H, xanchor:'left', yanchor:'middle', orientation:'h', itemsizing:'constant', entrywidth:87});
layout.legend4 = Object.assign({}, legBase, {x:188 / W, y:1 - 706 / H, xanchor:'left', yanchor:'middle', orientation:'h', itemsizing:'constant', entrywidth:89});

// ---------- panel letters ----------
[['a',23],['b',215],['c',452],['d',688],['e',902]].forEach(p => {
  ann({xref:'paper', yref:'paper', x:20 / W, y:1 - p[1] / H, xanchor:'left', yanchor:'middle', text:p[0], font:{family:FONT, size:22, color:'#111'}});
});

Plotly.newPlot('chart', data, layout, {staticPlot:true, displayModeBar:false});
</script>
</body>
</html>
